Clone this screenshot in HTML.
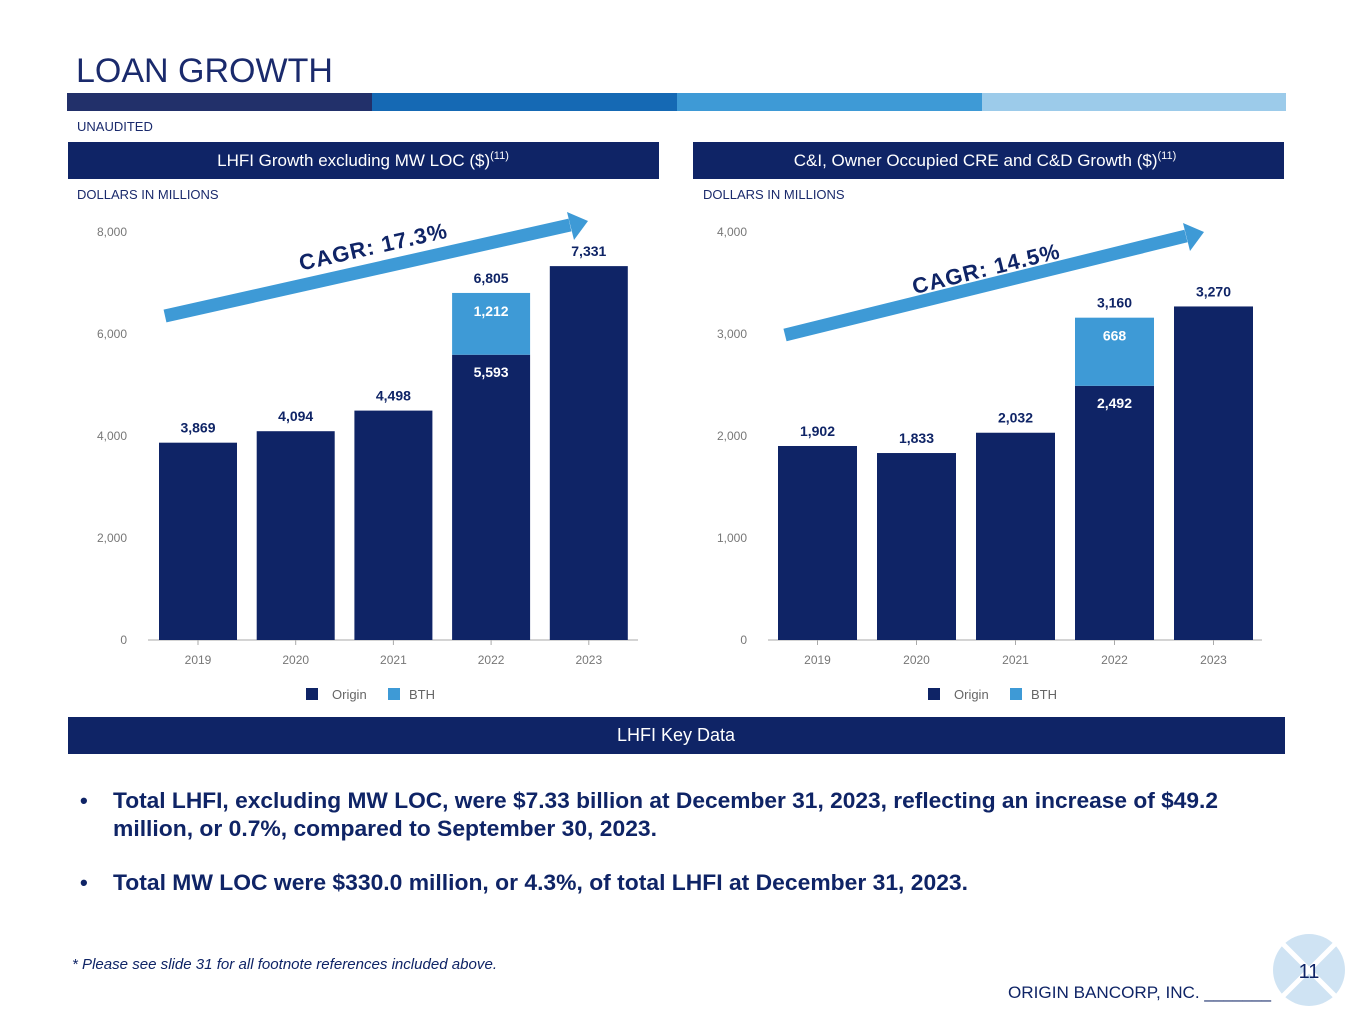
<!DOCTYPE html>
<html><head><meta charset="utf-8"><style>
body{margin:0;width:1365px;height:1024px;background:#fff;font-family:"Liberation Sans",Arial,sans-serif;overflow:hidden}
svg{display:block}
</style></head><body>
<svg id="s" width="1365" height="1024" xmlns="http://www.w3.org/2000/svg" font-family="Liberation Sans, Arial, sans-serif">
<text x="76" y="82" font-size="34" fill="#1a2a6c">LOAN GROWTH</text>
<g>
<rect x="67" y="93" width="305" height="18" fill="#22306a"/>
<rect x="372" y="93" width="305" height="18" fill="#1569b4"/>
<rect x="677" y="93" width="305" height="18" fill="#3e9ad6"/>
<rect x="982" y="93" width="304" height="18" fill="#9ccbea"/>
</g>
<text x="77" y="131" font-size="13" fill="#1a2a6c">UNAUDITED</text>
<rect x="68" y="142" width="591" height="37" fill="#0f2466"/>
<text x="363" y="166" font-size="17" fill="#fff" text-anchor="middle">LHFI Growth excluding MW LOC ($)<tspan font-size="11" dy="-7">(11)</tspan></text>
<rect x="693" y="142" width="591" height="37" fill="#0f2466"/>
<text x="985" y="166" font-size="17" fill="#fff" text-anchor="middle">C&amp;I, Owner Occupied CRE and C&amp;D Growth ($)<tspan font-size="11" dy="-7">(11)</tspan></text>
<text x="77" y="199" font-size="13" fill="#1a2a6c">DOLLARS IN MILLIONS</text>
<text x="703" y="199" font-size="13" fill="#1a2a6c">DOLLARS IN MILLIONS</text>
<g id="c1"></g><g id="c2"></g>
<g>
<line x1="165" y1="316" x2="570" y2="225" stroke="#3e9ad6" stroke-width="13"/>
<polygon points="567,212 588,221 574,240" fill="#3e9ad6"/>
<text x="375" y="254" font-size="22" font-weight="bold" fill="#0f2466" text-anchor="middle" transform="rotate(-12.7 375 254)" letter-spacing="1">CAGR:  17.3%</text>
</g>
<g>
<line x1="785" y1="335" x2="1186" y2="236" stroke="#3e9ad6" stroke-width="13"/>
<polygon points="1183,223 1204,232 1190,251" fill="#3e9ad6"/>
<text x="988" y="276" font-size="22" font-weight="bold" fill="#0f2466" text-anchor="middle" transform="rotate(-13.9 988 276)" letter-spacing="1">CAGR:  14.5%</text>
</g>
<rect x="68" y="717" width="1217" height="37" fill="#0f2466"/>
<text x="676" y="741" font-size="18" fill="#fff" text-anchor="middle">LHFI Key Data</text>
<g font-size="22" font-weight="bold" fill="#0f2466">
<text x="80" y="808">•</text>
<text x="113" y="808" textLength="1105" lengthAdjust="spacingAndGlyphs">Total LHFI, excluding MW LOC, were $7.33 billion at December 31, 2023, reflecting an increase of $49.2</text>
<text x="113" y="836" textLength="544" lengthAdjust="spacingAndGlyphs">million, or 0.7%, compared to September 30, 2023.</text>
<text x="80" y="890">•</text>
<text x="113" y="890" textLength="855" lengthAdjust="spacingAndGlyphs">Total MW LOC were $330.0 million, or 4.3%, of total LHFI at December 31, 2023.</text>
</g>
<text x="72" y="969" font-size="15" font-style="italic" fill="#0f2466" textLength="425" lengthAdjust="spacingAndGlyphs">* Please see slide 31 for all footnote references included above.</text>
<text x="1008" y="998" font-size="17" fill="#0f2466" textLength="263" lengthAdjust="spacingAndGlyphs">ORIGIN BANCORP, INC. _______</text>
<g>
<circle cx="1309" cy="970" r="36" fill="#cfe3f3"/>
<line x1="1283" y1="944" x2="1335" y2="996" stroke="#fff" stroke-width="5"/>
<line x1="1335" y1="944" x2="1283" y2="996" stroke="#fff" stroke-width="5"/>
<text x="1309" y="978" font-size="20" fill="#0f2466" text-anchor="middle">11</text>
</g>
</svg>
<script>
const years=["2019","2020","2021","2022","2023"];
const leftOrigin=[3869,4094,4498,5593,7331];
const leftBTH=[0,0,0,1212,0];
const leftTicks=[0,2000,4000,6000,8000];
const rightOrigin=[1902,1833,2032,2492,3270];
const rightBTH=[0,0,0,668,0];
const rightTicks=[0,1000,2000,3000,4000];
const NS="http://www.w3.org/2000/svg";
function mk(p,t,a,txt){const e=document.createElementNS(NS,t);for(const k in a)e.setAttribute(k,a[k]);if(txt!=null)e.textContent=txt;p.appendChild(e);return e;}
function fmt(v){return v.toLocaleString("en-US");}
function chart(gid,x0,x1,barX0,step,bw,ticks,origin,bth,legX,pfx){
  const g=document.getElementById(gid);
  const max=ticks[ticks.length-1];
  const y=v=>640-v/max*408;
  const xc=i=>barX0+step*i;
  ticks.forEach(t=>{const e=mk(g,"text",{x:x0-21,y:y(t)+4,"font-size":12,fill:"#777","text-anchor":"end"},fmt(t));
    
    });
  const ax=mk(g,"line",{x1:x0,y1:640,x2:x1,y2:640,stroke:"#aaa","stroke-width":1});
  
  
  years.forEach((yr,i)=>{
    const c=xc(i);
    mk(g,"line",{x1:c,y1:640,x2:c,y2:645,stroke:"#aaa"});
    const l=mk(g,"text",{x:c,y:664,"font-size":12,fill:"#777","text-anchor":"middle"},yr);
    
    
    const o=origin[i],b=bth[i];
    const r=mk(g,"rect",{x:c-bw/2,y:y(o),width:bw,height:640-y(o),fill:"#0f2466"});
    
    
    if(b>0){
      const r2=mk(g,"rect",{x:c-bw/2,y:y(o+b),width:bw,height:y(o)-y(o+b),fill:"#3e9ad6"});
      
      
      mk(g,"text",{x:c,y:y(o+b)+23,"font-size":14,"font-weight":"bold",fill:"#fff","text-anchor":"middle"},fmt(b));
      mk(g,"text",{x:c,y:y(o)+22,"font-size":14,"font-weight":"bold",fill:"#fff","text-anchor":"middle"},fmt(o));
      mk(g,"text",{x:c,y:y(o+b)-10,"font-size":14,"font-weight":"bold",fill:"#0f2466","text-anchor":"middle"},fmt(o+b));
    }else{
      mk(g,"text",{x:c,y:y(o)-10,"font-size":14,"font-weight":"bold",fill:"#0f2466","text-anchor":"middle"},fmt(o));
    }
  });
  const lg=mk(g,"g",{});
  
  
  mk(lg,"rect",{x:legX,y:688,width:12,height:12,fill:"#0f2466"});
  mk(lg,"text",{x:legX+26,y:699,"font-size":13,fill:"#666"},"Origin");
  mk(lg,"rect",{x:legX+82,y:688,width:12,height:12,fill:"#3e9ad6"});
  mk(lg,"text",{x:legX+103,y:699,"font-size":13,fill:"#666"},"BTH");
}
chart("c1",148,638,198,97.7,78,leftTicks,leftOrigin,leftBTH,306,"left");
chart("c2",768,1262,817.5,99,79,rightTicks,rightOrigin,rightBTH,928,"right");
</script>
</body></html>
